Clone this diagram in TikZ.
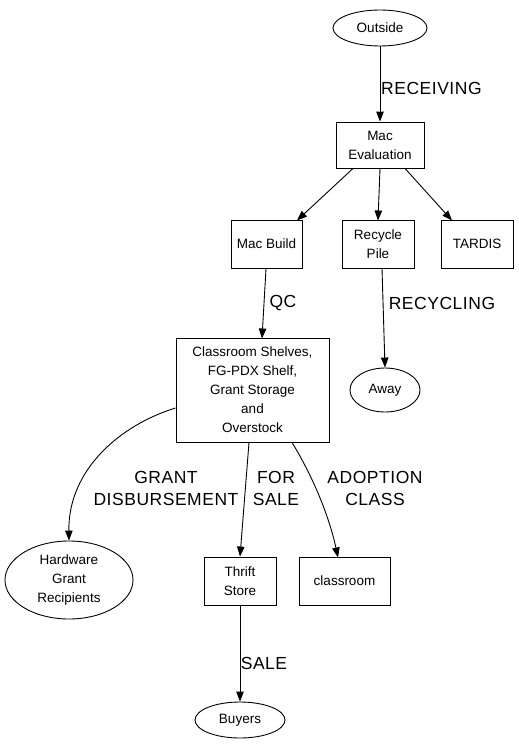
\documentclass[tikz,border=0pt]{standalone}
\usepackage{fontspec}
\setmainfont{Liberation Sans}
\usetikzlibrary{arrows.meta,shapes.geometric}
\tikzset{
  nfont/.style={font=\fontsize{13.5}{19}\selectfont, align=center},
  efont/.style={font=\fontsize{17.5}{22}\selectfont\addfontfeature{LetterSpace=3}, align=center},
  boxn/.style={draw, line width=0.9pt, rectangle, nfont, inner sep=0pt},
  elln/.style={draw, line width=0.9pt, ellipse, nfont, inner sep=0pt},
  edge/.style={draw, line width=0.9pt, -{Triangle[length=10pt,width=7.5pt]}},
  lbl/.style={efont, inner sep=0pt}
}
\begin{document}
\begin{tikzpicture}[x=1pt,y=-1pt]
\useasboundingbox (0,0) rectangle (519,752);
% nodes
\node[elln, minimum width=94pt, minimum height=36pt] (out) at (380,28) {Outside};
\node[boxn, minimum width=88pt, minimum height=46pt] (eval) at (380,145) {Mac\\Evaluation};
\node[boxn, minimum width=71pt, minimum height=48pt] (build) at (266.5,244) {Mac Build};
\node[boxn, minimum width=72pt, minimum height=48pt] (recy) at (378,244) {Recycle\\Pile};
\node[boxn, minimum width=72pt, minimum height=48pt] (tardis) at (477,244) {TARDIS};
\node[boxn, minimum width=153pt, minimum height=104pt] (shelf) at (252.5,390) {Classroom Shelves,\\FG-PDX Shelf,\\Grant Storage\\and\\Overstock};
\node[elln, minimum width=70pt, minimum height=44pt] (away) at (385,390) {Away};
\node[elln, minimum width=128pt, minimum height=78pt] (hw) at (69,580) {Hardware\\Grant\\Recipients};
\node[boxn, minimum width=72pt, minimum height=48pt] (thrift) at (240,581) {Thrift\\Store};
\node[boxn, minimum width=91pt, minimum height=48pt] (class) at (344.5,581) {classroom};
\node[elln, minimum width=90pt, minimum height=36pt] (buy) at (240,720) {Buyers};
% edges
\draw[edge] (out) -- (eval);
\node[lbl, anchor=west] (lrec) at (381,88) {RECEIVING};
\draw[edge] (eval.south -| 353,0) -- (297,220.5);
\draw[edge] (eval.south) -- (378,220.5);
\draw[edge] (eval.south -| 405,0) -- (452,220.5);
\draw[edge] (build.south -| 266,0) -- (262,338.5);
\node[lbl] (lqc) at (283,303) {QC};
\draw[edge] (recy.south -| 382,0) -- (away.north);
\node[lbl] (lrecy) at (442,303) {RECYCLING};
\draw[edge] (shelf.west |- 0,408) .. controls (120,425) and (68,470) .. (hw.north);
\node[lbl] (lgrant) at (166,488) {GRANT\\DISBURSEMENT};
\draw[edge] (shelf.south -| 249,0) -- (thrift.north);
\node[lbl] (lfor) at (276,488) {FOR\\SALE};
\draw[edge] (shelf.south -| 292,0) .. controls (315,480) and (330,520) .. (338,557.5);
\node[lbl] (ladopt) at (375,488) {ADOPTION\\CLASS};
\draw[edge] (thrift) -- (buy);
\node[lbl] (lsale) at (264,663) {SALE};
\end{tikzpicture}
\end{document}
